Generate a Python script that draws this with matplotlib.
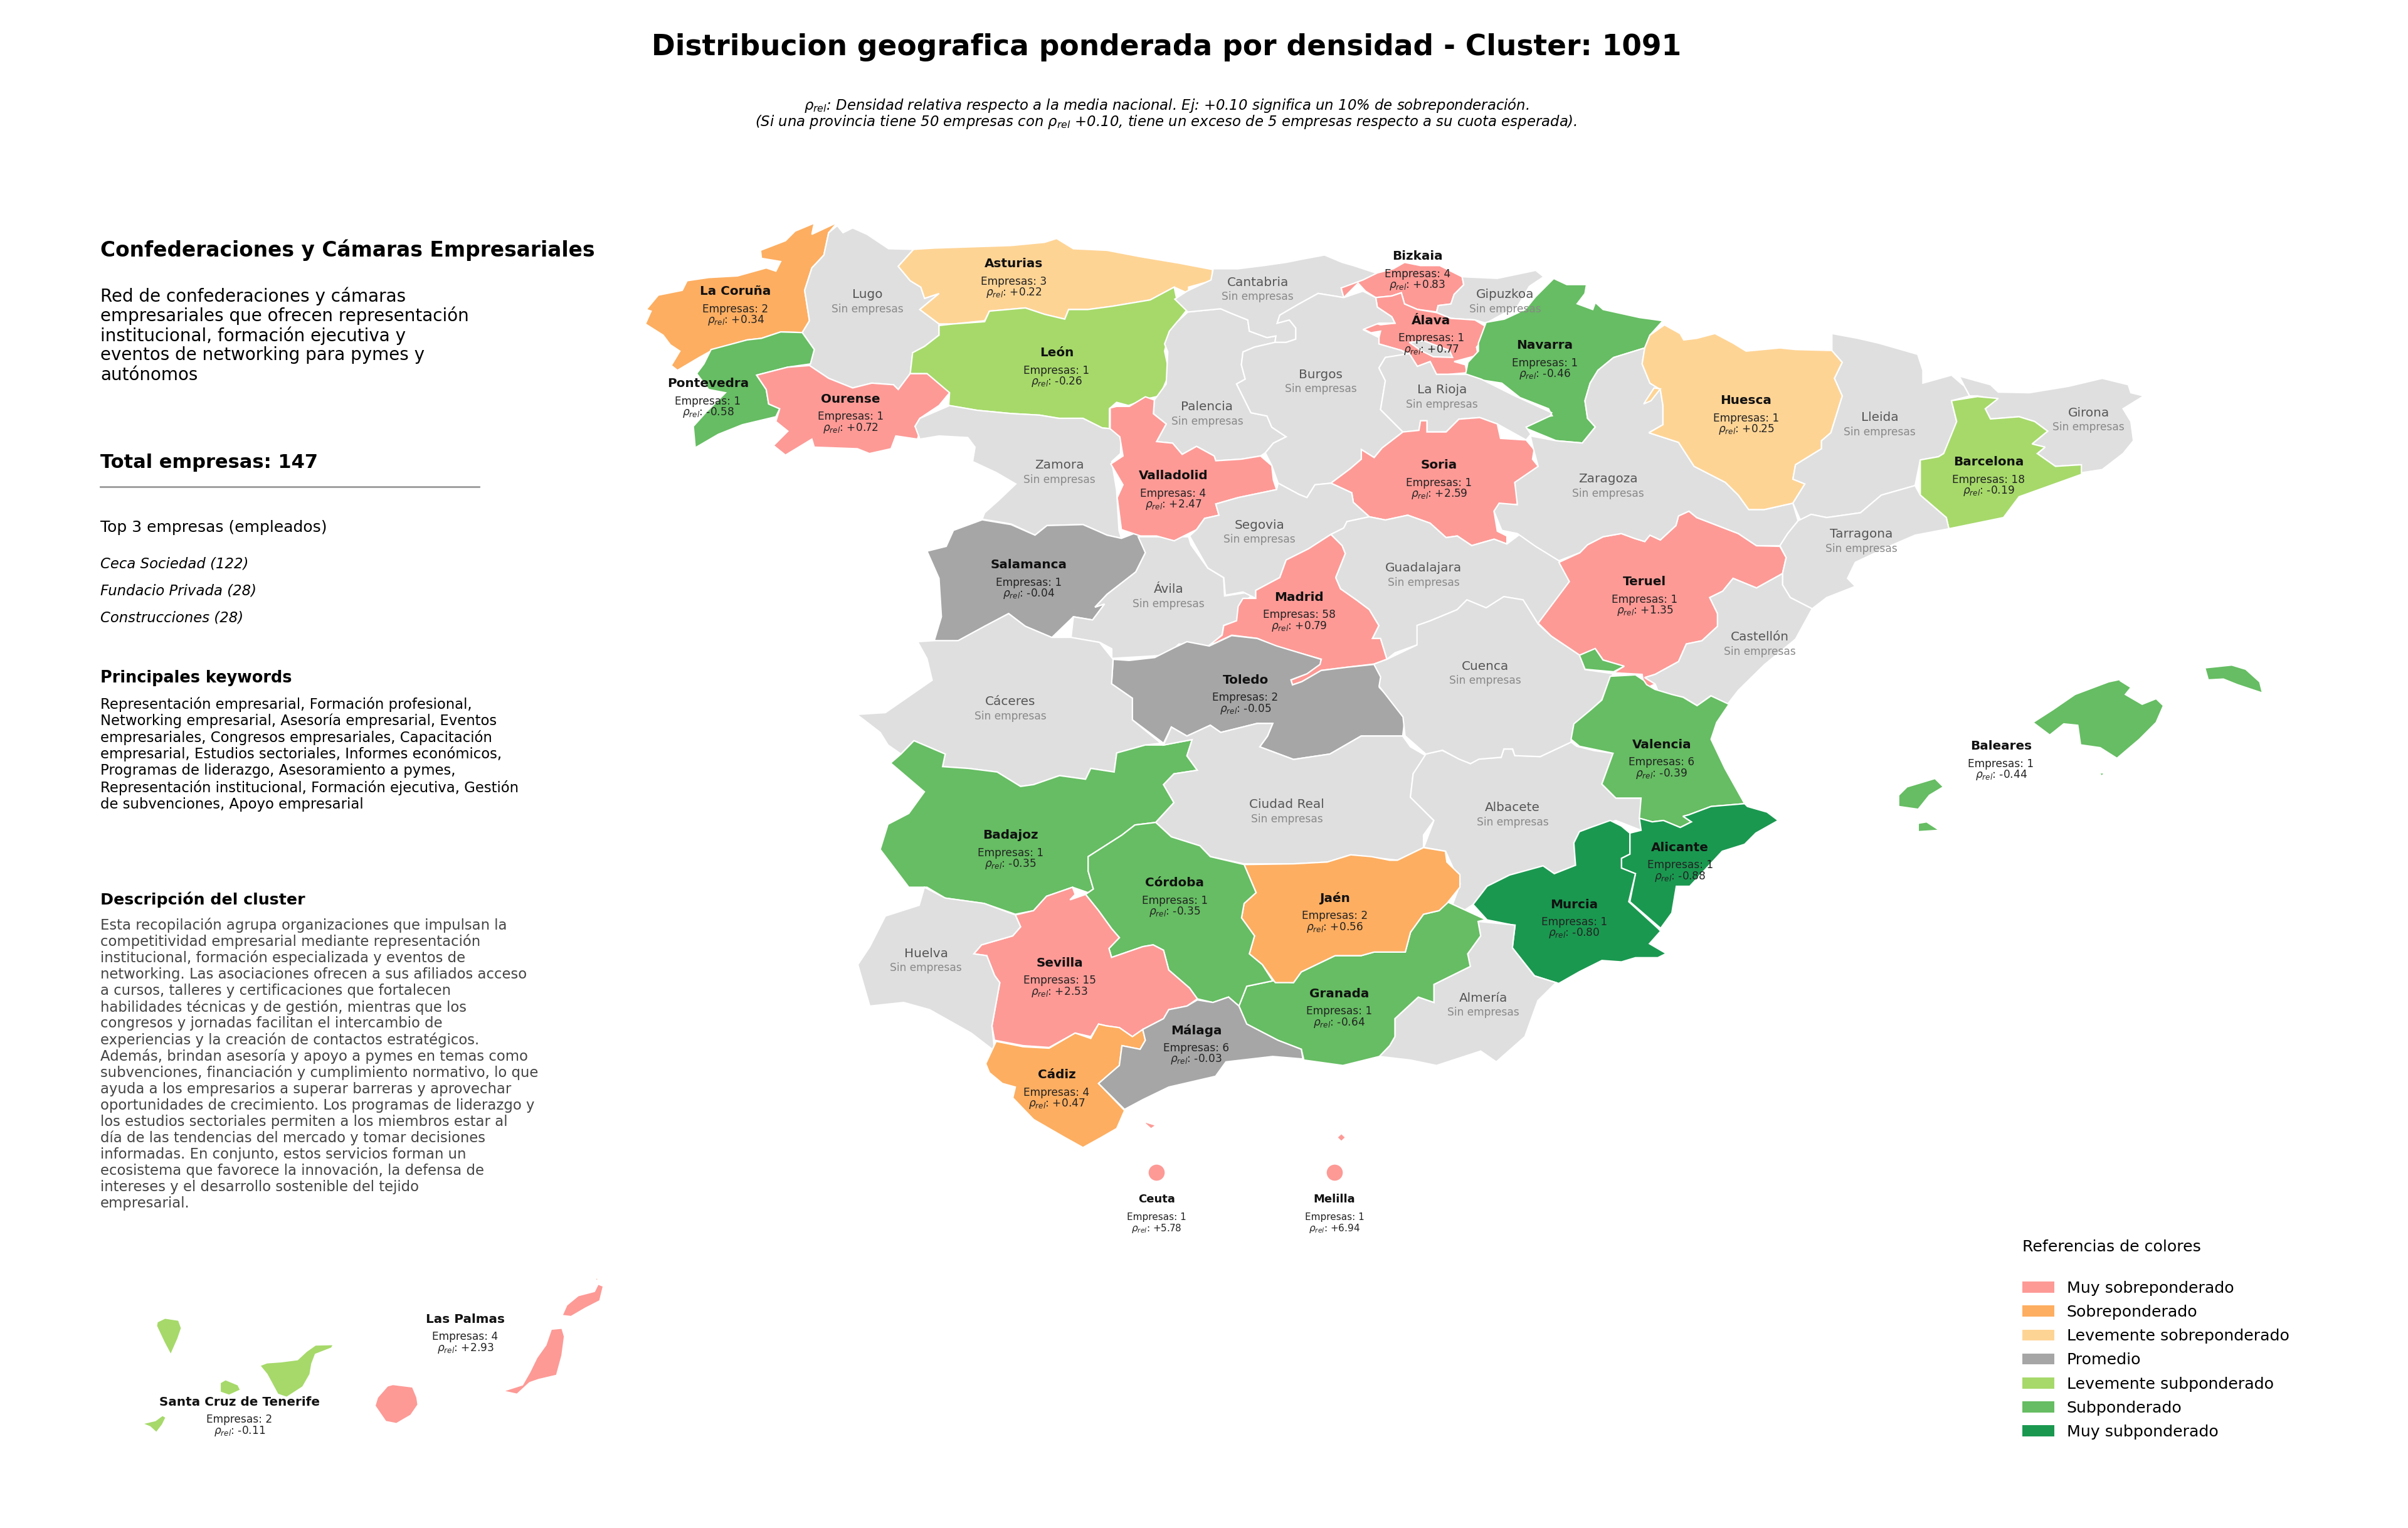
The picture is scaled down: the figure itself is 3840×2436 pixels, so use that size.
import numpy as np
import matplotlib
matplotlib.use('Agg')
import matplotlib.pyplot as plt
from matplotlib.patches import Patch

# crops the outlines were traced on: left, top, px per traced unit in x and y
NW = (1000, 320, 1200 / 1568, 800 / 1568)
NE = (2200, 320, 1300 / 1568, 800 / 1568)
SW = (1300, 1050, 1300 / 1568, 900 / 1568)
SE = (2300, 1000, 1400 / 1568, 700 / 1568)
MID = (1750, 380, 800 / 1568, 800 / 1568)
CAN = (130, 1950, 900 / 1568, 400 / 1195)

OUTLINES = {
    'La Coruña': [(NW, [(438,68),(420,100),(410,170),(385,210),(370,280),(380,375),(365,412),(320,410),(280,430),(250,435),(180,465),(150,490),(105,530),(92,515),(110,470),(90,450),(75,420),(38,385),(50,345),(40,340),(65,295),(115,280),(125,250),(170,240),(230,235),(290,210),(310,220),(320,190),(280,180),(278,155),(330,125),(350,95),(390,70),(385,105)])],
    'Lugo': [(NW, [(438,78),(450,100),(470,85),(500,105),(545,150),(597,152),(565,205),(590,250),(612,270),(620,305),(650,290),(610,340),(650,385),(650,420),(620,455),(595,475),(590,540),(565,590),(555,575),(510,570),(470,585),(420,555),(380,515),(390,465),(365,412),(380,375),(370,280),(385,210),(410,170),(420,100)])],
    'Pontevedra': [(NW, [(365,412),(390,465),(382,510),(335,520),(270,545),(290,590),(295,635),(318,650),(310,675),(240,700),(190,730),(142,772),(138,705),(165,660),(205,600),(170,590),(145,540),(160,510),(175,465),(250,435),(280,430),(320,410)])],
    'Ourense': [(NW, [(270,545),(335,520),(380,515),(420,555),(470,585),(510,570),(555,575),(565,590),(590,540),(625,540),(650,560),(672,600),(650,640),(610,680),(600,705),(612,715),(605,745),(560,735),(550,775),(505,790),(480,775),(390,770),(385,745),(330,795),(305,765),(335,720),(310,690),(318,650),(295,635),(290,590)])],
    'Asturias': [(NW, [(597,152),(640,148),(700,145),(800,140),(870,130),(895,118),(930,150),(1000,155),(1070,175),(1150,195),(1220,215),(1218,250),(1170,270),(1170,290),(1140,270),(1090,310),(1010,330),(960,340),(920,340),(912,370),(870,355),(830,335),(755,345),(745,375),(680,385),(650,385),(610,340),(650,290),(620,305),(612,270),(590,250),(565,205)])],
    'León': [(NW, [(650,390),(680,385),(745,378),(755,345),(830,335),(870,355),(912,370),(920,340),(960,340),(1010,330),(1090,310),(1140,270),(1145,305),(1167,340),(1130,410),(1120,470),(1130,540),(1110,610),(1080,620),(1045,640),(1020,630),(1005,650),(1005,712),(990,710),(950,680),(900,680),(860,670),(800,665),(730,655),(670,640),(672,600),(625,540),(590,540),(595,475),(620,455),(650,420)])],
    'Zamora': [(NW, [(672,640),(730,655),(800,665),(860,670),(900,680),(950,680),(990,710),(1005,712),(1030,720),(1028,790),(1010,815),(1020,905),(1025,1030),(1030,1055),(1000,1045),(985,1035),(950,1012),(875,1015),(850,1045),(800,1010),(740,995),(745,975),(775,935),(810,885),(770,850),(720,815),(725,770),(710,740),(650,735),(610,745),(600,705),(610,680)])],
    'Salamanca': [(NW, [(740,997),(800,1012),(850,1045),(875,1015),(950,1012),(985,1035),(1000,1045),(1030,1055),(1065,1035),(1080,1100),(1060,1160),(1000,1230),(975,1270),(995,1260),(970,1310),(930,1300),(885,1365),(830,1330),(795,1290),(745,1330),(690,1375),(660,1380),(640,1375),(655,1300),(650,1180),(625,1095),(665,1080),(680,1030)])],
    'Ávila': [(NW, [(1065,1050),(1170,1050),(1175,1075),(1210,1148),(1243,1178),(1245,1235),(1310,1220),(1290,1250),(1285,1270),(1270,1313),(1243,1327),(1240,1356),(1210,1395),(1150,1385),(1125,1420),(1010,1430),(1010,1400),(985,1380),(925,1365),(930,1300),(970,1310),(995,1260),(975,1270),(1000,1230),(1060,1160),(1080,1100)])],
    'Palencia': [(MID, [(283,230),(385,220),(420,235),(470,255),(475,290),(530,310),(558,305),(555,325),(490,340),(455,355),(450,395),(462,440),(435,455),(480,545),(530,555),(545,590),(590,620),(550,640),(525,670),(510,680),(450,690),(370,695),(365,680),(310,650),(265,675),(235,640),(185,635),(215,580),(175,548),(178,505),(215,455),(220,355),(210,330),(225,290),(250,260)])],
    'Cantabria': [(MID, [(362,95),(440,95),(520,85),(590,75),(640,65),(710,52),(765,75),(800,85),(870,108),(875,125),(830,145),(762,155),(770,185),(690,172),(630,205),(570,240),(562,265),(600,255),(620,280),(620,315),(590,325),(555,325),(558,305),(530,310),(475,290),(470,255),(420,235),(385,220),(283,230),(242,190),(280,165),(355,130)])],
    'Bizkaia': [(MID, [(762,155),(830,130),(875,108),(925,95),(960,75),(1010,85),(1070,85),(1140,120),(1145,145),(1115,175),(1105,205),(1065,210),(1060,230),(1000,222),(960,205),(950,170),(920,180),(870,185),(838,165),(815,140),(770,185)])],
    'Gipuzkoa': [(MID, [(1140,120),(1250,125),(1370,100),(1395,120),(1350,150),(1315,210),(1215,265),(1180,255),(1105,250),(1060,232),(1065,210),(1105,205),(1115,175),(1145,145)])],
    'Álava': [(MID, [(870,185),(920,180),(950,170),(960,205),(1000,222),(1060,232),(1105,250),(1180,255),(1213,275),(1210,310),(1185,340),(1190,365),(1115,385),(1150,395),(1155,420),(1095,425),(1060,425),(1040,385),(1000,400),(975,360),(950,350),(880,330),(880,310),(885,290),(855,295),(825,280),(850,260),(885,270),(930,265),(920,245),(875,215)])],
    'Burgos': [(MID, [(690,172),(770,185),(830,165),(870,185),(875,215),(920,245),(930,265),(880,265),(830,285),(880,310),(880,330),(950,350),(980,370),(900,372),(880,405),(900,445),(885,535),(955,605),(890,655),(865,685),(825,660),(825,690),(790,720),(730,765),(680,770),(655,810),(630,800),(565,765),(545,710),(525,670),(550,640),(590,620),(545,590),(530,555),(480,545),(435,455),(462,440),(450,395),(455,355),(490,340),(555,325),(590,325),(620,315),(620,280),(600,255),(562,265),(570,240),(630,205)]),
               (MID, [(975,325),(1020,320),(1100,350),(1110,372),(1050,370),(1010,350)])],
    'Navarra': [(NE, [(335,243),(360,262),(398,262),(395,290),(380,322),(410,340),(415,318),(430,340),(500,365),(545,375),(520,420),(510,460),(450,490),(420,530),(405,570),(395,625),(400,680),(415,707),(390,757),(340,750),(280,710),(295,680),(332,672),(325,650),(270,615),(235,570),(195,560),(165,545),(170,505),(190,470),(190,445),(205,380),(240,370),(280,340),(300,300)])],
    'La Rioja': [(MID, [(900,372),(975,360),(1000,400),(1040,385),(1060,425),(1095,425),(1155,425),(1200,440),(1260,470),(1300,490),(1420,545),(1415,555),(1340,590),(1355,612),(1340,630),(1250,580),(1195,560),(1130,565),(1090,605),(1030,605),(1030,570),(1010,570),(1005,600),(955,605),(885,535),(900,445),(880,405)])],
    'Soria': [(MID, [(955,605),(1005,600),(1010,570),(1030,570),(1030,605),(1090,605),(1130,565),(1195,560),(1250,580),(1260,625),(1340,630),(1365,660),(1360,690),(1380,715),(1305,765),(1320,830),(1270,835),(1240,855),(1250,915),(1280,930),(1280,955),(1240,940),(1170,960),(1125,930),(1090,935),(1040,890),(970,865),(900,880),(850,870),(800,825),(795,795),(730,765),(790,720),(825,690),(825,660),(865,685),(890,655)])],
    'Valladolid': [(MID, [(40,530),(60,525),(100,525),(150,495),(178,505),(175,548),(215,580),(185,635),(235,640),(265,675),(310,650),(365,680),(370,695),(450,690),(510,680),(545,710),(550,755),(560,785),(440,810),(370,830),(380,865),(335,875),(310,910),(240,945),(185,930),(135,930),(75,910),(62,810),(80,770),(42,705),(80,680),(70,620),(40,595)])],
    'Segovia': [(MID, [(565,765),(630,800),(655,810),(680,770),(730,765),(795,795),(800,825),(850,870),(780,885),(770,905),(730,925),(660,970),(590,1005),(570,1060),(495,1100),(495,1125),(455,1105),(400,1115),(395,1060),(345,1030),(288,930),(310,910),(335,875),(380,865),(370,830),(440,810),(560,785)])],
    'Madrid': [(MID, [(730,925),(765,960),(775,985),(745,1060),(760,1095),(810,1130),(850,1160),(880,1210),(860,1250),(885,1250),(905,1315),(865,1330),(780,1340),(700,1350),(640,1385),(610,1395),(605,1380),(655,1360),(695,1330),(700,1315),(560,1275),(500,1250),(420,1240),(345,1275),(390,1240),(395,1210),(435,1195),(440,1150),(455,1125),(495,1125),(495,1100),(570,1060),(590,1005),(660,970)])],
    'Guadalajara': [(MID, [(850,870),(900,880),(970,865),(1040,890),(1090,935),(1125,930),(1170,960),(1240,940),(1280,955),(1320,925),(1420,985),(1445,1010),(1478,1060),(1475,1110),(1430,1145),(1410,1180),(1378,1205),(1330,1130),(1270,1120),(1215,1155),(1155,1130),(1125,1160),(1040,1195),(1000,1210),(1000,1270),(930,1295),(905,1315),(885,1250),(860,1250),(880,1210),(850,1160),(810,1130),(760,1095),(745,1060),(775,985),(765,960),(730,925),(770,905),(780,885)])],
    'Toledo': [(SW, [(573,2),(604,5),(653,-3),(690,-30),(715,-47),(758,-35),(801,-64),(850,-56),(888,-35),(973,2),(971,16),(946,42),(915,59),(918,73),(936,64),(973,33),(1023,24),(1075,16),(1090,50),(1085,80),(1135,155),(1130,215),(1050,215),(990,265),(920,280),(855,245),(870,215),(880,180),(850,180),(780,205),(760,185),(715,215),(685,190),(670,235),(610,170),(610,110),(570,70)])],
    'Cáceres': [(SW, [(197,-47),(229,-50),(275,-50),(326,-90),(372,-125),(404,-90),(455,-59),(492,-59),(547,-45),(573,2),(570,70),(610,110),(610,170),(665,235),(635,240),(580,262),(575,315),(530,305),(520,335),(470,325),(420,350),(395,355),(350,315),(295,305),(245,300),(250,265),(190,228),(165,265),(140,240),(125,205),(80,155),(135,150),(225,60),(215,0)])],
    'Badajoz': [(SW, [(190,228),(250,265),(245,300),(295,305),(350,315),(395,355),(420,350),(470,325),(520,335),(530,305),(575,315),(580,262),(635,240),(670,240),(725,225),(715,270),(735,310),(690,320),(670,350),(690,400),(655,455),(615,462),(590,490),(525,550),(525,590),(535,640),(525,650),(495,635),(445,660),(420,700),(385,710),(325,680),(250,665),(215,635),(180,635),(125,530),(140,460),(180,430),(210,370),(145,290),(165,265)])],
    'Ciudad Real': [(SW, [(670,240),(685,190),(715,215),(760,185),(780,205),(850,180),(880,180),(870,215),(855,245),(920,280),(990,265),(1050,215),(1130,215),(1145,245),(1175,270),(1150,320),(1145,385),(1190,450),(1170,490),(1170,525),(1120,560),(1030,545),(985,565),(920,570),(825,570),(760,550),(740,520),(685,495),(655,455),(690,400),(670,350),(690,320),(735,310),(715,270),(725,225)])],
    'Albacete': [(SE, [(-29,452),(0,440),(30,470),(50,487),(65,470),(105,465),(110,435),(125,435),(130,458),(175,462),(230,410),(240,425),(270,440),(305,450),(285,560),(310,610),(355,610),(355,725),(310,690),(265,715),(245,730),(235,770),(238,850),(200,880),(180,855),(120,885),(80,925),(55,990),(40,1010),(18,992),(32,916),(6,800),(-33,786),(-15,690),(-57,607),(-52,523)])],
    'Cuenca': [(NE, [(14,1433),(72,1388),(72,1327),(97,1313),(149,1278),(168,1247),(205,1272),(239,1237),(276,1247),(305,1323),(330,1360),(385,1420),(395,1465),(450,1478),(444,1490),(427,1560),(406,1592),(374,1635),(368,1692),(309,1737),(260,1734),(256,1713),(239,1713),(234,1739),(191,1745),(175,1759),(153,1745),(121,1717),(89,1729),(49,1672),(45,1613),(-1,1517),(2,1488),(-11,1448)])],
    'Teruel': [(NE, [(595,970),(610,990),(650,1015),(690,1040),(725,1078),(770,1080),(782,1115),(775,1165),(725,1210),(680,1180),(660,1220),(635,1240),(650,1290),(650,1330),(620,1375),(590,1385),(575,1440),(530,1480),(510,1490),(530,1510),(510,1525),(505,1480),(450,1475),(470,1455),(430,1435),(415,1400),(385,1420),(330,1360),(305,1320),(335,1255),(365,1190),(345,1130),(385,1100),(400,1075),(430,1050),(465,1040),(490,1055),(510,1065),(520,1045),(540,1060),(570,1015),(575,985)])],
    'Zaragoza': [(NE, [(510,460),(505,510),(520,570),(540,590),(545,640),(545,700),(518,725),(575,755),(605,830),(665,880),(690,920),(710,965),(740,965),(795,945),(805,1000),(785,1040),(770,1078),(725,1078),(690,1040),(650,1015),(610,990),(595,970),(575,985),(570,1015),(540,1060),(520,1045),(510,1065),(490,1055),(465,1040),(430,1050),(400,1075),(385,1100),(345,1125),(300,1080),(265,1040),(235,1030),(220,970),(230,945),(265,950),(260,880),(305,830),(295,770),(290,735),(340,750),(390,757),(415,707),(400,680),(395,625),(405,570),(420,530),(450,490)])],
    'Huesca': [(NE, [(548,388),(578,415),(585,435),(610,430),(645,415),(680,445),(705,470),(770,460),(800,465),(870,468),(890,505),(875,555),(890,610),(868,725),(850,750),(850,775),(800,825),(795,870),(818,885),(795,945),(740,965),(710,965),(690,920),(665,880),(605,830),(575,755),(518,725),(545,700),(545,640),(540,590),(520,570),(505,510),(510,460),(520,420)]),
               (NE, [(508,635),(528,585),(540,588),(522,625)])],
    'Lleida': [(NE, [(870,415),(920,430),(960,445),(1035,480),(1045,530),(1045,570),(1100,545),(1125,580),(1135,610),(1100,625),(1110,690),(1100,740),(1085,790),(1075,800),(1040,810),(1030,890),(965,920),(925,975),(860,990),(830,980),(810,1000),(795,945),(818,885),(795,870),(800,825),(850,775),(850,750),(868,725),(890,610),(875,555),(890,505),(870,468)])],
    'Girona': [(NE, [(1115,548),(1175,575),(1190,598),(1250,600),(1325,580),(1390,555),(1440,575),(1445,600),(1470,610),(1430,650),(1445,690),(1450,750),(1430,790),(1390,840),(1350,850),(1345,825),(1300,830),(1265,790),(1280,770),(1255,760),(1285,720),(1260,690),(1230,675),(1175,682),(1165,650),(1185,620),(1150,610),(1135,610),(1125,580)])],
    'Barcelona': [(NE, [(1100,625),(1150,612),(1190,618),(1165,650),(1175,682),(1230,675),(1260,690),(1285,720),(1255,760),(1280,770),(1265,790),(1300,830),(1350,825),(1350,855),(1290,890),(1230,925),(1200,990),(1095,1025),(1090,990),(1040,920),(1040,810),(1075,800),(1085,790),(1110,690)])],
    'Tarragona': [(NE, [(1030,890),(1040,920),(1090,990),(1095,1025),(1030,1045),(980,1080),(915,1130),(900,1180),(915,1205),(860,1240),(832,1275),(790,1240),(775,1200),(775,1165),(782,1115),(770,1078),(785,1040),(805,1000),(830,980),(860,990),(925,975),(965,920)])],
    'Castellón': [(NE, [(725,1210),(775,1165),(775,1200),(790,1240),(832,1275),(800,1370),(740,1450),(690,1530),(669,1574),(637,1547),(611,1578),(584,1551),(562,1565),(535,1530),(530,1510),(510,1490),(530,1480),(575,1440),(590,1385),(620,1375),(650,1330),(650,1290),(635,1240),(660,1220),(680,1180)])],
    'Valencia': [(SE, [(300,175),(345,170),(360,190),(365,205),(380,222),(410,240),(430,250),(455,280),(480,245),(512,275),(490,340),(480,400),(505,505),(540,630),(480,640),(440,670),(430,675),(445,695),(425,715),(395,690),(375,695),(352,682),(355,610),(310,610),(285,560),(305,450),(245,425),(230,400),(235,345),(265,295),(285,260)]),
                 (SE, [(245,100),(273,76),(287,117),(325,139),(306,159),(255,150)])],
    'Alicante': [(SE, [(352,682),(375,695),(395,690),(425,715),(445,695),(430,675),(440,670),(480,640),(540,630),(545,640),(580,660),(600,690),(560,735),(540,775),(500,800),(442,925),(418,925),(410,1020),(390,1075),(335,980),(345,880),(320,860),(320,825),(335,810),(335,735),(355,725)])],
    'Murcia': [(SE, [(300,690),(320,710),(335,735),(335,810),(320,825),(320,860),(345,880),(333,980),(385,1075),(390,1085),(370,1130),(400,1165),(385,1180),(345,1180),(320,1195),(285,1190),(245,1230),(208,1272),(165,1245),(125,1145),(130,1065),(80,1045),(55,990),(80,925),(120,885),(180,852),(200,880),(238,850),(235,770),(245,730),(265,715)])],
    'Almería': [(SW, [(1275,730),(1346,740),(1341,803),(1383,881),(1425,900),(1390,950),(1365,1050),(1310,1120),(1280,1090),(1195,1130),(1145,1115),(1085,1105),(1105,1075),(1115,1050),(1115,1000),(1160,940),(1190,955),(1190,905),(1260,855),(1255,820),(1280,770)])],
    'Granada': [(SW, [(1215,675),(1290,725),(1275,730),(1280,770),(1255,820),(1260,855),(1190,905),(1190,955),(1160,940),(1115,1000),(1115,1050),(1105,1075),(1085,1105),(1015,1130),(940,1115),(935,1085),(890,1060),(830,1015),(815,965),(830,910),(880,895),(920,900),(935,870),(1000,825),(1050,825),(1075,815),(1135,815),(1145,760),(1170,710),(1200,700)])],
    'Jaén': [(SW, [(825,572),(920,570),(985,565),(1030,545),(1070,550),(1105,560),(1120,560),(1170,525),(1212,535),(1215,565),(1240,600),(1240,635),(1215,680),(1200,700),(1170,710),(1145,760),(1135,815),(1075,815),(1050,825),(1000,825),(935,870),(920,900),(885,900),(860,850),(835,820),(845,770),(820,720),(825,680),(848,650)])],
    'Córdoba': [(SW, [(615,462),(655,455),(685,495),(740,520),(760,550),(825,572),(848,650),(825,680),(820,720),(845,770),(835,820),(860,850),(880,895),(830,910),(815,965),(795,940),(765,955),(735,945),(720,915),(680,865),(670,810),(650,795),(630,800),(570,830),(565,805),(585,775),(570,750),(545,700),(520,655),(535,640),(525,590),(525,550),(590,490)])],
    'Sevilla': [(SW, [(385,712),(420,700),(445,660),(495,635),(500,655),(490,670),(520,655),(545,700),(570,750),(585,775),(565,805),(570,830),(630,800),(650,795),(670,810),(680,865),(720,915),(735,945),(715,965),(680,975),(670,1000),(630,1030),(610,1050),(585,1025),(560,1020),(545,1015),(530,1050),(500,1040),(450,1080),(400,1075),(345,1060),(340,1020),(355,900),(345,880),(330,825),(305,820),(320,795),(380,770),(395,745)])],
    'Huelva': [(SW, [(210,635),(250,665),(325,680),(385,712),(395,745),(380,770),(320,795),(305,820),(330,825),(345,880),(355,900),(340,1020),(345,1090),(300,1040),(220,975),(170,955),(105,965),(82,850),(105,800),(135,715),(200,685)])],
    'Cádiz': [(SW, [(348,1063),(400,1078),(450,1082),(500,1040),(530,1055),(545,1015),(560,1020),(585,1025),(610,1050),(630,1030),(635,1060),(625,1085),(590,1075),(585,1130),(545,1180),(595,1255),(580,1305),(550,1330),(515,1358),(480,1330),(420,1280),(380,1220),(385,1190),(360,1180),(335,1150),(328,1125)])],
    'Málaga': [(SW, [(735,948),(765,955),(795,940),(815,965),(830,1015),(890,1060),(935,1085),(938,1112),(880,1105),(790,1120),(770,1160),(680,1190),(630,1225),(595,1252),(545,1180),(585,1130),(590,1075),(625,1085),(635,1060),(630,1030),(670,1000),(680,975),(715,965)])],
    'Ceuta': [(SW, [(636,1290),(652,1297),(646,1303)])],
    'Melilla': [(SW, [(1006,1330),(1012,1322),(1018,1330),(1012,1338)])],
    'Baleares': [(SE, [(1225,180),(1210,190),(1230,215),(1220,240),(1250,275),(1275,255),(1288,280),(1275,340),(1245,400),(1205,468),(1175,430),(1140,420),(1135,350),(1110,345),(1085,385),(1055,340),(1090,295),(1130,240),(1190,195)]),
                 (SE, [(1362,145),(1410,135),(1435,150),(1460,195),(1465,235),(1420,205),(1395,185),(1368,188)]),
                 (SE, [(815,600),(830,570),(880,540),(895,570),(870,600),(850,650),(815,640)]),
                 (SE, [(850,700),(865,695),(888,725),(850,730)]),
                 (SE, [(1173,520),(1183,520),(1178,532)])],
    'Santa Cruz de Tenerife': [(CAN, [(210,470),(232,452),(270,462),(278,500),(268,550),(248,628),(230,570),(208,490)]),
                               (CAN, [(495,678),(515,665),(555,660),(600,650),(625,610),(650,580),(700,578),(695,595),(650,625),(640,670),(635,720),(615,780),(570,830),(545,815),(515,720)]),
                               (CAN, [(385,760),(400,745),(435,770),(442,795),(410,820),(385,805)]),
                               (CAN, [(168,955),(205,940),(225,915),(235,925),(225,960),(208,998),(190,970)])],
    'Las Palmas': [(CAN, [(850,775),(865,768),(920,780),(932,830),(935,865),(915,915),(875,955),(845,945),(815,870),(822,830)]),
                   (CAN, [(1305,505),(1335,500),(1342,540),(1335,630),(1320,725),(1270,745),(1245,760),(1210,815),(1170,800),(1225,770),(1245,710),(1265,640),(1290,580)]),
                   (CAN, [(1335,440),(1348,390),(1380,345),(1425,325),(1435,290),(1450,300),(1440,370),(1400,405),(1360,445)]),
                   (CAN, [(1425,275),(1432,258),(1436,270)])],
}

# provinces with companies
names = ['La Coruña', 'Asturias', 'Bizkaia', 'Pontevedra', 'Ourense', 'León', 'Álava', 'Navarra', 'Huesca',
         'Barcelona', 'Soria', 'Valladolid', 'Salamanca', 'Teruel', 'Madrid', 'Toledo', 'Baleares', 'Valencia',
         'Badajoz', 'Alicante', 'Córdoba', 'Jaén', 'Murcia', 'Sevilla', 'Granada', 'Málaga', 'Cádiz', 'Ceuta',
         'Melilla', 'Las Palmas', 'Santa Cruz de Tenerife']
empresas = [2, 3, 4, 1, 1, 1, 1, 1, 1, 18, 1, 4, 1, 1, 58, 2, 1, 6, 1, 1, 1, 2, 1, 15, 1, 6, 4, 1, 1, 4, 2]
rho = [0.34, 0.22, 0.83, -0.58, 0.72, -0.26, 0.77, -0.46, 0.25, -0.19, 2.59, 2.47, -0.04, 1.35, 0.79, -0.05,
       -0.44, -0.39, -0.35, -0.88, -0.35, 0.56, -0.80, 2.53, -0.64, -0.03, 0.47, 5.78, 6.94, 2.93, -0.11]

# label anchors on the 1568 px wide view of the picture
label_pos = {
    'La Coruña': (479, 189), 'Lugo': (565, 191), 'Asturias': (660, 171), 'Cantabria': (819, 183),
    'Bizkaia': (923, 166), 'Gipuzkoa': (980, 191), 'Pontevedra': (461, 249), 'Ourense': (554, 259),
    'León': (688, 229), 'Palencia': (786, 264), 'Burgos': (860, 243), 'Álava': (932, 208),
    'Navarra': (1006, 224), 'La Rioja': (939, 253), 'Huesca': (1137, 260), 'Lleida': (1224, 271),
    'Girona': (1360, 268), 'Barcelona': (1295, 300), 'Zaragoza': (1047, 311), 'Soria': (937, 302),
    'Valladolid': (764, 309), 'Zamora': (690, 302), 'Tarragona': (1212, 347), 'Salamanca': (670, 367),
    'Segovia': (820, 341), 'Guadalajara': (927, 369), 'Teruel': (1071, 378), 'Ávila': (761, 383),
    'Madrid': (846, 388), 'Castellón': (1146, 414), 'Cuenca': (967, 433), 'Toledo': (811, 442),
    'Cáceres': (658, 456), 'Baleares': (1303, 485), 'Valencia': (1082, 484), 'Ciudad Real': (838, 523),
    'Albacete': (985, 525), 'Badajoz': (658, 543), 'Alicante': (1094, 551), 'Córdoba': (765, 574),
    'Jaén': (869, 584), 'Murcia': (1025, 588), 'Huelva': (603, 620), 'Sevilla': (690, 626),
    'Granada': (872, 646), 'Almería': (966, 649), 'Málaga': (779, 670), 'Cádiz': (688, 699),
    'Ceuta': (753, 780), 'Melilla': (869, 780), 'Las Palmas': (303, 858), 'Santa Cruz de Tenerife': (156, 912),
}
dot_pos = {'Ceuta': (753, 763), 'Melilla': (869, 763)}
small_labels = ['Ceuta', 'Melilla']

legend_labels = ['Muy sobreponderado', 'Sobreponderado', 'Levemente sobreponderado', 'Promedio',
                 'Levemente subponderado', 'Subponderado', 'Muy subponderado']
legend_colors = ['#fd9a96', '#fdae61', '#fed495', '#a6a6a6', '#a6d96a', '#66bd63', '#1a9850']
class_edges = [-0.7, -0.3, -0.1, 0.1, 0.3, 0.7]
empty_color = '#dfdfdf'

top3 = ['Ceca Sociedad (122)', 'Fundacio Privada (28)', 'Construcciones (28)']
summary = ['Red de confederaciones y cámaras', 'empresariales que ofrecen representación',
           'institucional, formación ejecutiva y', 'eventos de networking para pymes y', 'autónomos']
keywords = ['Representación empresarial, Formación profesional,',
            'Networking empresarial, Asesoría empresarial, Eventos',
            'empresariales, Congresos empresariales, Capacitación',
            'empresarial, Estudios sectoriales, Informes económicos,',
            'Programas de liderazgo, Asesoramiento a pymes,',
            'Representación institucional, Formación ejecutiva, Gestión',
            'de subvenciones, Apoyo empresarial']
description = ['Esta recopilación agrupa organizaciones que impulsan la',
               'competitividad empresarial mediante representación',
               'institucional, formación especializada y eventos de',
               'networking. Las asociaciones ofrecen a sus afiliados acceso',
               'a cursos, talleres y certificaciones que fortalecen',
               'habilidades técnicas y de gestión, mientras que los',
               'congresos y jornadas facilitan el intercambio de',
               'experiencias y la creación de contactos estratégicos.',
               'Además, brindan asesoría y apoyo a pymes en temas como',
               'subvenciones, financiación y cumplimiento normativo, lo que',
               'ayuda a los empresarios a superar barreras y aprovechar',
               'oportunidades de crecimiento. Los programas de liderazgo y',
               'los estudios sectoriales permiten a los miembros estar al',
               'día de las tendencias del mercado y tomar decisiones',
               'informadas. En conjunto, estos servicios forman un',
               'ecosistema que favorece la innovación, la defensa de',
               'intereses y el desarrollo sostenible del tejido',
               'empresarial.']


def to_px(frame, pts):
    left, top, sx, sy = frame
    pts = np.array(pts, dtype=float)
    return left + pts[:, 0] * sx, top + pts[:, 1] * sy


def color_for(value):
    # legend runs from most over to most under weighted
    return legend_colors[6 - np.digitize(value, class_edges, right=True)]


fig = plt.figure(figsize=(19.2, 12.18), dpi=200)
ax = fig.add_axes([0, 0, 1, 1])
ax.set_xlim(0, 3840)
ax.set_ylim(2436, 0)
ax.axis('off')

scale = 3840 / 1568
rho_by_name = dict(zip(names, rho))
count_by_name = dict(zip(names, empresas))

for name, parts in OUTLINES.items():
    col = color_for(rho_by_name[name]) if name in rho_by_name else empty_color
    # tiny plazas lose their fill under a white edge
    edge = col if name in small_labels else 'white'
    for frame, pts in parts:
        xs, ys = to_px(frame, pts)
        ax.fill(xs, ys, facecolor=col, edgecolor=edge, linewidth=0.8 if name not in small_labels else 0.2)

for name, (x, y) in dot_pos.items():
    ax.scatter(x * scale, y * scale, s=85, color=color_for(rho_by_name[name]), linewidths=0)

for name, (x, y) in label_pos.items():
    x, y = x * scale, y * scale + 2
    if name in rho_by_name:
        small = name in small_labels
        ax.text(x, y, name, ha='center', va='center', fontsize=6.5 if small else 7.2, fontweight='bold', color='#111111')
        ax.text(x, y + 28, f'Empresas: {count_by_name[name]}', ha='center', va='center',
                fontsize=5.5 if small else 6.15, color='#222222')
        ax.text(x, y + 46, rf'$\rho_{{rel}}$: {rho_by_name[name]:+.2f}', ha='center', va='center',
                fontsize=5.5 if small else 6.15, color='#222222')
    else:
        ax.text(x, y, name, ha='center', va='center', fontsize=7.2, color='#555555')
        ax.text(x, y + 23, 'Sin empresas', ha='center', va='center', fontsize=6.15, color='#888888')

# header
ax.text(1860, 75, 'Distribucion geografica ponderada por densidad - Cluster: 1091', ha='center', va='center',
        fontsize=16.4, fontweight='bold')
ax.text(1860, 168, r'$\rho_{rel}$: Densidad relativa respecto a la media nacional. Ej: +0.10 significa un 10% de sobreponderación.',
        ha='center', va='center', fontsize=8.2, style='italic')
ax.text(1860, 195, r'(Si una provincia tiene 50 empresas con $\rho_{rel}$ +0.10, tiene un exceso de 5 empresas respecto a su cuota esperada).',
        ha='center', va='center', fontsize=8.2, style='italic')

# left panel
left = 160
ax.text(left, 399, 'Confederaciones y Cámaras Empresariales', va='center', fontsize=11.85, fontweight='bold')
for i, line in enumerate(summary):
    ax.text(left, 472 + i * 31.5, line, va='center', fontsize=10)
ax.text(left, 737, 'Total empresas: 147', va='center', fontsize=11, fontweight='bold')
ax.plot([160, 764], [775.5, 775.5], color='#999999', linewidth=1)
ax.text(left, 841, 'Top 3 empresas (empleados)', va='center', fontsize=9)
for i, line in enumerate(top3):
    ax.text(left, 899 + i * 43, line, va='center', fontsize=8.2, style='italic')
ax.text(left, 1081, 'Principales keywords', va='center', fontsize=9.2, fontweight='bold')
for i, line in enumerate(keywords):
    ax.text(left, 1123 + i * 26.5, line, va='center', fontsize=8.2)
ax.text(left, 1434, 'Descripción del cluster', va='center', fontsize=9.1, fontweight='bold')
for i, line in enumerate(description):
    ax.text(left, 1475 + i * 26.1, line, va='center', fontsize=8.2, color='#444444')

handles = [Patch(facecolor=c, edgecolor='none', label=l) for c, l in zip(legend_colors, legend_labels)]
ax.legend(handles=handles, title='Referencias de colores\n', loc='upper left', bbox_to_anchor=(3225, 1976),
          bbox_transform=ax.transData, frameon=False, fontsize=9.1, title_fontsize=9.1, alignment='left',
          borderpad=0, borderaxespad=0, labelspacing=0.56)

fig.savefig('out.png', dpi=200)
